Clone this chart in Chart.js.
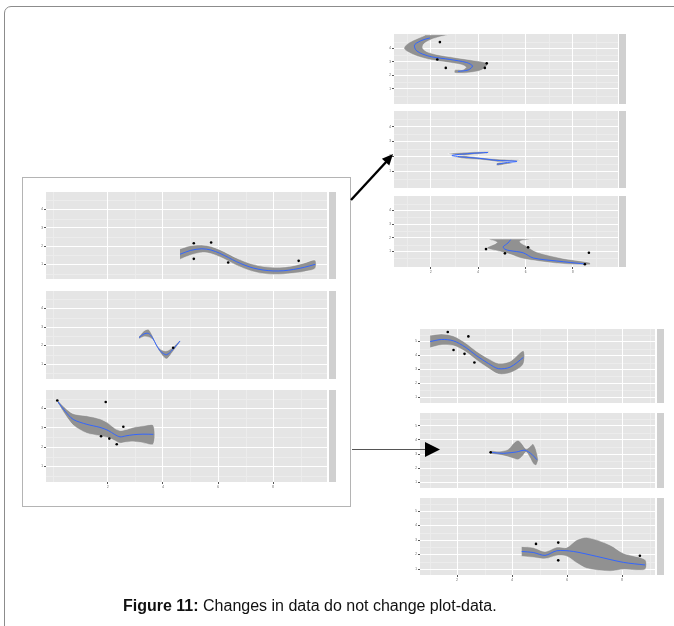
<!DOCTYPE html>
<html>
<head>
<meta charset="utf-8">
<script src="https://cdn.jsdelivr.net/npm/chart.js@4.4.1/dist/chart.umd.min.js"></script>
<style>
  html, body { margin: 0; padding: 0; background: #fff; width: 674px; height: 626px; overflow: hidden; position: relative; font-family: "Liberation Sans", Arial, sans-serif; }
  .frame { position: absolute; left: 4px; top: 6px; width: 720px; height: 700px; border: 1px solid #8c8c8c; border-radius: 7px; }
  .box { position: absolute; left: 22px; top: 177px; width: 327px; height: 328px; border: 1px solid #b4b4b4; background: #fff; }
  #plots canvas { position: absolute; }
  .caption { position: absolute; left: 123px; top: 597px; font-size: 16px; color: #111; white-space: nowrap; }
  svg { position: absolute; left: 0; top: 0; }
</style>
</head>
<body>
<div class="frame"></div>
<div class="box"></div>
<div id="plots"></div>
<svg width="674" height="626">
  <line x1="351" y1="200" x2="387" y2="161" stroke="#000" stroke-width="2.4"/>
  <polygon points="393,154 389.3,165.5 381.9,158.7" fill="#000"/>
  <line x1="352" y1="449.5" x2="426" y2="449.5" stroke="#555" stroke-width="1"/>
  <polygon points="425,442 440,449.5 425,457" fill="#000"/>
</svg>
<div class="caption"><b>Figure 11:</b> Changes in data do not change plot-data.</div>

<script>
// ---------- left block (original data) ----------
const cTicksX = [2, 4, 6, 8];
const cMinorX = [0, 3, 5, 7, 9];
const cTicksY = [1, 2, 3, 4];
const cMinorY = [0.5, 1.5, 2.5, 3.5, 4.5];

const c1PtsX = [5.12, 5.75, 5.12, 6.37, 8.93];
const c1PtsY = [2.15, 2.19, 1.30, 1.10, 1.19];
const c1FitX = [4.62, 5.0, 5.41, 5.75, 6.07, 6.38, 6.68, 6.98, 7.28, 7.64, 8.01, 8.37, 8.74, 9.14, 9.53];
const c1FitY = [1.55, 1.76, 1.85, 1.78, 1.60, 1.37, 1.14, 0.95, 0.80, 0.69, 0.64, 0.65, 0.72, 0.84, 1.00];
const c1Lo   = [1.27, 1.50, 1.64, 1.58, 1.40, 1.17, 0.94, 0.75, 0.60, 0.49, 0.45, 0.46, 0.51, 0.60, 0.77];
const c1Hi   = [1.85, 2.02, 2.06, 1.98, 1.80, 1.57, 1.34, 1.15, 1.00, 0.89, 0.84, 0.85, 0.93, 1.08, 1.23];

const c2PtsX = [4.37];
const c2PtsY = [1.89];
const c2FitX = [3.13, 3.31, 3.47, 3.62, 3.77, 3.93, 4.13, 4.36, 4.62];
const c2FitY = [2.44, 2.63, 2.66, 2.43, 2.00, 1.67, 1.51, 1.79, 2.25];
const c2Lo   = [2.36, 2.48, 2.46, 2.33, 1.94, 1.55, 1.28, 1.67, 2.21];
const c2Hi   = [2.50, 2.80, 2.88, 2.55, 2.06, 1.79, 1.72, 1.91, 2.29];

const c3PtsX = [0.16, 1.92, 1.75, 2.56, 2.32, 2.05];
const c3PtsY = [4.41, 4.33, 2.56, 3.05, 2.15, 2.44];
const c3FitX = [0.19, 0.44, 0.74, 1.23, 1.71, 2.01, 2.25, 2.44, 2.65, 2.92, 3.27, 3.65];
const c3FitY = [4.33, 3.86, 3.43, 3.18, 3.02, 2.86, 2.65, 2.53, 2.58, 2.64, 2.67, 2.66];
const c3Lo   = [4.25, 3.68, 3.13, 2.72, 2.58, 2.48, 2.33, 2.20, 2.25, 2.28, 2.22, 2.15];
const c3Hi   = [4.41, 4.04, 3.73, 3.62, 3.46, 3.24, 2.97, 2.86, 2.91, 3.02, 3.10, 3.13];

// ---------- upper-right block ----------
const aTicksX = [2, 4, 6, 8];
const aMinorX = [1, 3, 5, 7, 9];
const aTicksY = [1, 2, 3, 4];
const aMinorY = [0.5, 1.5, 2.5, 3.5, 4.5];

const a1PtsX = [2.38, 2.27, 2.63, 4.36, 4.28];
const a1PtsY = [4.47, 3.18, 2.55, 2.89, 2.55];
const a1FitX = [1.96, 1.62, 1.32, 1.32, 1.41, 1.66, 2.04, 2.80, 3.51, 3.76, 3.58, 3.15];
const a1FitY = [4.78, 4.60, 4.29, 4.03, 3.80, 3.57, 3.37, 3.18, 2.95, 2.69, 2.40, 2.29];
const a1EdgeAX = [1.75, 1.11, 0.86, 1.03, 1.45, 2.04, 2.80, 3.31, 3.48, 3.35, 3.01];
const a1EdgeAY = [4.97, 4.47, 4.03, 3.73, 3.40, 3.13, 2.93, 2.77, 2.60, 2.43, 2.40];
const a1EdgeBX = [2.72, 2.08, 1.70, 1.66, 1.87, 2.30, 3.01, 3.86, 4.41, 4.16, 3.65, 3.01];
const a1EdgeBY = [5.00, 4.70, 4.33, 4.00, 3.73, 3.53, 3.33, 3.10, 2.87, 2.40, 2.20, 2.17];

const a2PtsX = [];
const a2PtsY = [];
const a2FitX = [4.41, 3.65, 2.89, 3.31, 4.07, 4.83, 5.64, 5.13, 4.79];
const a2FitY = [2.27, 2.20, 2.07, 1.97, 1.87, 1.73, 1.67, 1.57, 1.47];
const a2EdgeAX = [4.49, 3.65, 2.72, 3.31, 4.07, 4.83, 5.80, 5.13, 4.79];
const a2EdgeAY = [2.33, 2.30, 2.19, 2.07, 1.93, 1.83, 1.75, 1.65, 1.57];
const a2EdgeBX = [4.33, 3.65, 3.05, 3.31, 4.07, 4.83, 5.50, 5.13, 4.79];
const a2EdgeBY = [2.20, 2.10, 1.95, 1.87, 1.77, 1.63, 1.55, 1.45, 1.38];

const a3PtsX = [4.33, 5.13, 6.11, 8.68, 8.51];
const a3PtsY = [1.18, 0.87, 1.31, 0.91, 0.07];
const a3FitX = [5.37, 5.26, 5.06, 5.13, 5.34, 5.90, 6.33, 7.32, 8.51];
const a3FitY = [1.87, 1.63, 1.35, 1.17, 1.07, 0.91, 0.53, 0.31, 0.09];
const a3EdgeAX = [4.41, 4.79, 4.37, 4.92, 5.34, 5.90, 7.32, 8.72];
const a3EdgeAY = [1.91, 1.67, 1.27, 1.00, 0.80, 0.47, 0.13, 0.03];
const a3EdgeBX = [6.27, 5.76, 6.11, 6.47, 7.59, 8.72];
const a3EdgeBY = [1.91, 1.73, 1.33, 0.97, 0.50, 0.20];

// ---------- lower-right block ----------
const bTicksX = [2, 4, 6, 8];
const bMinorX = [1, 3, 5, 7, 9];
const bTicksY = [1, 2, 3, 4, 5];
const bMinorY = [1.5, 2.5, 3.5, 4.5, 5.5];

const b1PtsX = [1.66, 1.87, 2.41, 2.27, 2.63];
const b1PtsY = [5.69, 4.40, 5.37, 4.12, 3.50];
const b1FitX = [1.02, 1.44, 1.87, 2.29, 2.72, 3.14, 3.50, 3.93, 4.41];
const b1FitY = [5.00, 5.15, 5.05, 4.61, 3.97, 3.43, 3.06, 3.17, 3.86];
const b1Lo   = [4.55, 4.75, 4.70, 4.29, 3.65, 3.08, 2.67, 2.75, 3.38];
const b1Hi   = [5.45, 5.55, 5.40, 4.93, 4.29, 3.78, 3.45, 3.59, 4.34];

const b2PtsX = [3.22];
const b2PtsY = [3.12];
const b2FitX = [3.26, 3.68, 4.17, 4.47, 4.72, 4.90];
const b2FitY = [3.11, 3.05, 3.15, 3.27, 2.98, 2.60];
const b2BandX = [3.24, 3.56, 3.85, 4.07, 4.22, 4.36, 4.51, 4.65, 4.76, 4.87, 4.95];
const b2Lo    = [3.00, 2.93, 2.80, 2.67, 2.60, 2.80, 3.13, 2.73, 2.33, 2.20, 2.53];
const b2Hi    = [3.23, 3.20, 3.33, 3.80, 3.97, 3.73, 3.37, 3.53, 3.73, 3.33, 2.67];

const b3PtsX = [4.87, 5.68, 5.68, 8.65];
const b3PtsY = [2.74, 2.83, 1.61, 1.93];
const b3FitX = [4.35, 4.77, 5.20, 5.63, 6.23, 7.08, 8.05, 8.84];
const b3FitY = [2.22, 2.15, 1.95, 2.27, 2.22, 1.88, 1.47, 1.29];
const b3BandX = [4.35, 4.77, 5.20, 5.63, 5.99, 6.35, 6.72, 7.56, 8.05, 8.84];
const b3Lo    = [1.88, 1.81, 1.71, 1.93, 1.88, 1.43, 1.05, 0.86, 0.98, 0.98];
const b3Hi    = [2.56, 2.49, 2.22, 2.52, 2.50, 3.01, 3.19, 2.67, 2.10, 1.66];

// ---------- helpers ----------
const xy = (xs, ys) => xs.map((x, i) => ({ x, y: ys[i] }));
// closed outline: one edge forward, the other edge backward
const ring = (xa, ya, xb, yb) => xy(xa, ya).concat(xy(xb, yb).reverse());

// panel background, minor grid and facet strip
const panelBg = {
  id: 'panelBg',
  beforeDraw(chart, args, o) {
    const { ctx, chartArea: a, scales: { x, y } } = chart;
    ctx.save();
    ctx.fillStyle = '#e5e5e5';
    ctx.fillRect(a.left, a.top, a.right - a.left, a.bottom - a.top);
    ctx.strokeStyle = '#ececec';
    ctx.lineWidth = 1;
    ctx.beginPath();
    o.minorX.forEach(v => {
      const p = Math.round(x.getPixelForValue(v)) + 0.5;
      if (p > a.left && p < a.right) { ctx.moveTo(p, a.top); ctx.lineTo(p, a.bottom); }
    });
    o.minorY.forEach(v => {
      const p = Math.round(y.getPixelForValue(v)) + 0.5;
      if (p > a.top && p < a.bottom) { ctx.moveTo(a.left, p); ctx.lineTo(a.right, p); }
    });
    ctx.stroke();
    ctx.fillStyle = '#d0d0d0';
    ctx.fillRect(a.right + o.gap, a.top, o.stripW, a.bottom - a.top);
    ctx.restore();
  }
};

function makePanel(box, p) {
  const axisH = p.xAxis ? 7 : 0;
  const w = box.stripR - box.plotL + box.axisW;
  const h = p.bottom - p.top + axisH;
  const cv = document.createElement('canvas');
  cv.width = w; cv.height = h;
  cv.style.left = (box.plotL - box.axisW) + 'px';
  cv.style.top = p.top + 'px';
  cv.style.width = w + 'px'; cv.style.height = h + 'px';
  document.getElementById('plots').appendChild(cv);

  const tickFont = { size: 3, family: 'Liberation Sans' };
  new Chart(cv, {
    type: 'scatter',
    data: {
      datasets: [
        // confidence ribbon (drawn first, underneath)
        { order: 3, data: p.band, showLine: true, fill: 'shape', backgroundColor: '#919191',
          borderColor: 'rgba(255,255,255,0.6)', borderWidth: 0.8, pointRadius: 0, tension: 0.3 },
        // smoother
        { order: 2, data: p.fit, showLine: true, fill: false, borderColor: '#3366ff', borderWidth: 1,
          pointRadius: 0, tension: 0.3 },
        // observations
        { order: 1, data: p.pts, showLine: false, pointRadius: 1.3, backgroundColor: '#000', borderWidth: 0 }
      ]
    },
    options: {
      responsive: false, animation: false, devicePixelRatio: 1, events: [],
      layout: { padding: { left: 0, right: box.stripR - box.plotR, top: 0, bottom: 0 } },
      plugins: {
        legend: { display: false }, tooltip: { enabled: false },
        panelBg: { minorX: box.minorX, minorY: box.minorY, gap: box.stripGap, stripW: box.stripR - box.plotR - box.stripGap }
      },
      scales: {
        x: {
          type: 'linear', min: box.xMin, max: box.xMax,
          afterBuildTicks: s => { s.ticks = box.ticksX.map(v => ({ value: v })); },
          afterFit: s => { s.height = axisH; s.paddingLeft = 0; s.paddingRight = 0; },
          ticks: { display: p.xAxis, font: tickFont, color: '#555', padding: 1, maxRotation: 0, autoSkip: false },
          grid: { color: '#ffffff', lineWidth: 1, drawTicks: p.xAxis, tickLength: 2, tickColor: '#555' },
          border: { display: false }
        },
        y: {
          type: 'linear', min: box.yMin, max: box.yMax,
          afterBuildTicks: s => { s.ticks = box.ticksY.map(v => ({ value: v })); },
          afterFit: s => { s.width = box.axisW; s.paddingTop = 0; s.paddingBottom = 0; },
          ticks: { font: tickFont, color: '#555', padding: 1, autoSkip: false },
          grid: { color: '#ffffff', lineWidth: 1, drawTicks: true, tickLength: 2, tickColor: '#555' },
          border: { display: false }
        }
      }
    },
    plugins: [panelBg]
  });
}

// ---------- blocks ----------
const leftBlock = { plotL: 46, plotR: 327, stripR: 336, stripGap: 2, axisW: 6,
  xMin: -0.25, xMax: 9.96, yMin: 0.2, yMax: 4.95,
  ticksX: cTicksX, minorX: cMinorX, ticksY: cTicksY, minorY: cMinorY };
const upperBlock = { plotL: 394, plotR: 618, stripR: 626, stripGap: 1, axisW: 5,
  xMin: 0.44, xMax: 9.91, yMin: -0.13, yMax: 5.07,
  ticksX: aTicksX, minorX: aMinorX, ticksY: aTicksY, minorY: aMinorY };
const lowerBlock = { plotL: 420, plotR: 655, stripR: 664, stripGap: 2, axisW: 5,
  xMin: 0.65, xMax: 9.2, yMin: 0.6, yMax: 5.9,
  ticksX: bTicksX, minorX: bMinorX, ticksY: bTicksY, minorY: bMinorY };

makePanel(leftBlock, { top: 188, bottom: 283, xAxis: false,
  band: ring(c1FitX, c1Hi, c1FitX, c1Lo), fit: xy(c1FitX, c1FitY), pts: xy(c1PtsX, c1PtsY) });
makePanel(leftBlock, { top: 287, bottom: 383, xAxis: false,
  band: ring(c2FitX, c2Hi, c2FitX, c2Lo), fit: xy(c2FitX, c2FitY), pts: xy(c2PtsX, c2PtsY) });
makePanel(leftBlock, { top: 386, bottom: 482, xAxis: true,
  band: ring(c3FitX, c3Hi, c3FitX, c3Lo), fit: xy(c3FitX, c3FitY), pts: xy(c3PtsX, c3PtsY) });

makePanel(upperBlock, { top: 30, bottom: 108, xAxis: false,
  band: ring(a1EdgeAX, a1EdgeAY, a1EdgeBX, a1EdgeBY), fit: xy(a1FitX, a1FitY), pts: xy(a1PtsX, a1PtsY) });
makePanel(upperBlock, { top: 111, bottom: 188, xAxis: false,
  band: ring(a2EdgeAX, a2EdgeAY, a2EdgeBX, a2EdgeBY), fit: xy(a2FitX, a2FitY), pts: xy(a2PtsX, a2PtsY) });
makePanel(upperBlock, { top: 192, bottom: 267, xAxis: true,
  band: ring(a3EdgeAX, a3EdgeAY, a3EdgeBX, a3EdgeBY), fit: xy(a3FitX, a3FitY), pts: xy(a3PtsX, a3PtsY) });

makePanel(lowerBlock, { top: 325, bottom: 407, xAxis: false,
  band: ring(b1FitX, b1Hi, b1FitX, b1Lo), fit: xy(b1FitX, b1FitY), pts: xy(b1PtsX, b1PtsY) });
makePanel(lowerBlock, { top: 409, bottom: 492, xAxis: false,
  band: ring(b2BandX, b2Hi, b2BandX, b2Lo), fit: xy(b2FitX, b2FitY), pts: xy(b2PtsX, b2PtsY) });
makePanel(lowerBlock, { top: 494, bottom: 575, xAxis: true,
  band: ring(b3BandX, b3Hi, b3BandX, b3Lo), fit: xy(b3FitX, b3FitY), pts: xy(b3PtsX, b3PtsY) });
</script>
</body>
</html>
